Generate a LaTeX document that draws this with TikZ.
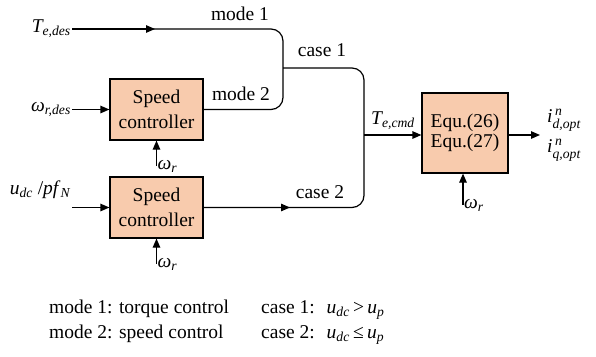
\documentclass[tikz,border=0pt]{standalone}
\usepackage{amsmath}
\usepackage{fontspec}
\setmainfont{Liberation Serif}
\usetikzlibrary{arrows.meta}
\newcommand\mi[1]{\textit{#1}}
\definecolor{peach}{RGB}{248,203,173}
\begin{document}
\begin{tikzpicture}[x=1pt,y=-1pt,
  font=\fontsize{19.5}{24}\selectfont,
  blk/.style={draw,line width=1.2pt,fill=peach,inner sep=0pt,align=center},
  conn/.style={line width=1.2pt},
  arr/.style={line width=1.2pt,-{Triangle[length=9pt,width=7.5pt]}},
  lbl/.style={inner sep=1pt}]
\useasboundingbox (0,0) rectangle (596,356);
% blocks
\node[blk,minimum width=93pt,minimum height=61pt,font=\fontsize{19.5}{25}\selectfont] (sc1) at (156.5,109.5) {Speed\\controller};
\node[blk,minimum width=93pt,minimum height=61pt,font=\fontsize{19.5}{25}\selectfont] (sc2) at (156.5,207.5) {Speed\\controller};
\node[blk,minimum width=86pt,minimum height=80pt,font=\fontsize{19.5}{20}\selectfont] (eq) at (465,133) {Equ.(26)\\Equ.(27)};
% coordinates
\coordinate (te) at (72,29);
\coordinate (tem) at (155,29);
\coordinate (wr) at (72,109.5);
\coordinate (ud) at (72,207.5);
\coordinate (c2m) at (290,207.5);
\coordinate (j1) at (283,68);
\coordinate (j2) at (364,135);
\coordinate (out) at (540,135);
\coordinate (w1) at (156.5,166);
\coordinate (w2) at (156.5,264);
\coordinate (w3) at (463,205);
% labels
\node[lbl,anchor=east] (lte) at (te) {$\mi{T}_{\mi{e,des}}$};
\node[lbl,anchor=east] (lwr) at (wr) {$\mi{ω}_{\mi{r,des}}$};
\node[lbl] (lud) at (40,190) {$\mi{u}_{\mi{dc}}$ /\mi{pf}$_{\mi{N}}$};
\node[lbl] (m1) at (240,14) {mode 1};
\node[lbl] (m2) at (241,94) {mode 2};
\node[lbl] (c1) at (322,50) {case 1};
\node[lbl] (c2) at (320,192) {case 2};
\node[lbl] (tcmd) at (393,121) {$\mi{T}_{\mi{e,cmd}}$};
\node[lbl,anchor=west] (id) at (546,120) {$\mi{i}^{\,\mi{n}}_{\mi{d,opt}}$};
\node[lbl,anchor=west] (iq) at (546,150) {$\mi{i}^{\,\mi{n}}_{\mi{q,opt}}$};
\node[lbl,anchor=west] (o1) at (w1) {$\mi{ω}_{\mi{r}}$};
\node[lbl,anchor=west] (o2) at (w2) {$\mi{ω}_{\mi{r}}$};
\node[lbl,anchor=west] (o3) at (w3) {$\mi{ω}_{\mi{r}}$};
% connectors
\draw[conn,rounded corners=12pt] (te) -| (j1) |- (sc1.east);
\draw[arr] (te) -- (tem);
\draw[conn,rounded corners=12pt] (j1) -| (j2) |- (sc2.east);
\draw[arr] (sc2.east) -- (c2m);
\draw[arr] (wr) -- (sc1.west);
\draw[arr] (ud) -- (sc2.west);
\draw[arr] (j2) -- (j2 -| eq.west);
\draw[arr] (j2 -| eq.east) -- (out);
\draw[arr] (w1) -- (sc1.south);
\draw[arr] (w2) -- (sc2.south);
\draw[arr] (w3) -- (w3 |- eq.south);
% legend
\node[lbl,anchor=base west] (lg1) at (48,313) {mode 1: torque control};
\node[lbl,anchor=base west] (lg2) at (48,338) {mode 2: speed control};
\node[lbl,anchor=base west] (lg3) at (260,313) {case 1:\; $\mi{u}_{\mi{dc}}$\,>\,$\mi{u}_{\mi{p}}$};
\node[lbl,anchor=base west] (lg4) at (260,338) {case 2:\; $\mi{u}_{\mi{dc}}$\,≤\,$\mi{u}_{\mi{p}}$};
\end{tikzpicture}
\end{document}
